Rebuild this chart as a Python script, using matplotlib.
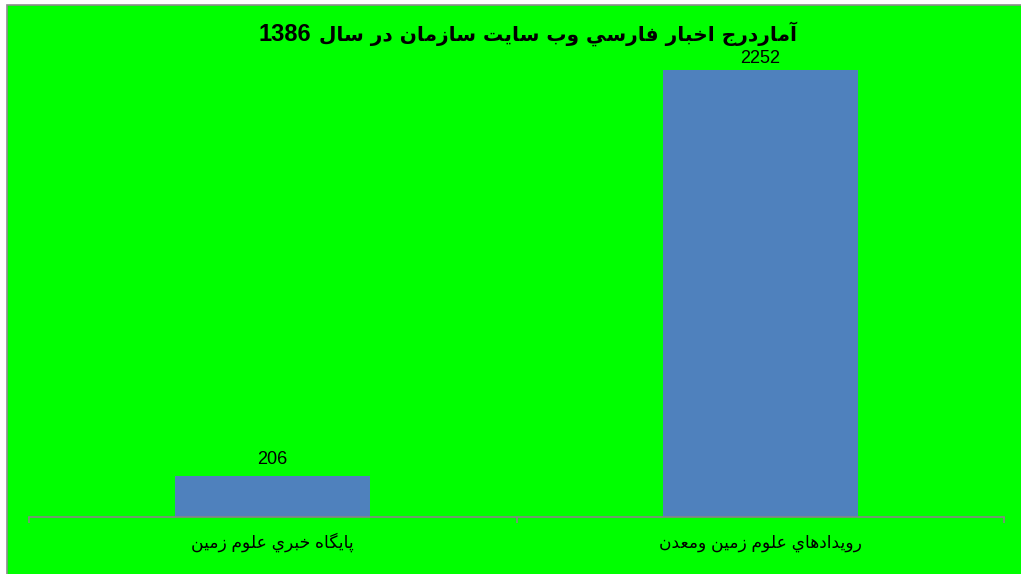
"""
Bar chart: news items posted on the organisation's Persian web site in 1386
"""

import re
import matplotlib
matplotlib.use('Agg')
import matplotlib.pyplot as plt
from matplotlib.patches import Rectangle

# Data
TITLE_TEXT = 'آماردرج اخبار فارسي وب سايت سازمان در سال'
TITLE_YEAR = '1386'
CATEGORIES = ['پايگاه خبري علوم زمين', 'رويدادهاي علوم زمين ومعدن']
VALUES = [206, 2252]

BAR_COLOR = '#4F81BD'
BG_COLOR = '#00FF00'
AXIS_COLOR = '#868686'

# Arabic presentation forms: isolated, final, initial, medial
FORMS = {
    'آ': (0xFE81, 0xFE82),
    'ا': (0xFE8D, 0xFE8E),
    'ب': (0xFE8F, 0xFE90, 0xFE91, 0xFE92),
    'ت': (0xFE95, 0xFE96, 0xFE97, 0xFE98),
    'ج': (0xFE9D, 0xFE9E, 0xFE9F, 0xFEA0),
    'خ': (0xFEA5, 0xFEA6, 0xFEA7, 0xFEA8),
    'د': (0xFEA9, 0xFEAA),
    'ر': (0xFEAD, 0xFEAE),
    'ز': (0xFEAF, 0xFEB0),
    'س': (0xFEB1, 0xFEB2, 0xFEB3, 0xFEB4),
    'ع': (0xFEC9, 0xFECA, 0xFECB, 0xFECC),
    'ف': (0xFED1, 0xFED2, 0xFED3, 0xFED4),
    'ل': (0xFEDD, 0xFEDE, 0xFEDF, 0xFEE0),
    'م': (0xFEE1, 0xFEE2, 0xFEE3, 0xFEE4),
    'ن': (0xFEE5, 0xFEE6, 0xFEE7, 0xFEE8),
    'ه': (0xFEE9, 0xFEEA, 0xFEEB, 0xFEEC),
    'و': (0xFEED, 0xFEEE),
    'ي': (0xFEF1, 0xFEF2, 0xFEF3, 0xFEF4),
    'پ': (0xFB56, 0xFB57, 0xFB58, 0xFB59),
    'گ': (0xFB92, 0xFB93, 0xFB94, 0xFB95),
}


def rtl(text):
    # matplotlib has no shaping, so join the letters and put them in visual order
    out = []
    for i, ch in enumerate(text):
        if ch not in FORMS:
            out.append(ch)
            continue
        prev = text[i - 1] if i > 0 else ''
        nxt = text[i + 1] if i + 1 < len(text) else ''
        f = FORMS[ch]
        join_prev = prev in FORMS and len(FORMS[prev]) == 4
        join_next = len(f) == 4 and nxt in FORMS
        if join_prev and join_next:
            c = f[3]
        elif join_prev:
            c = f[1]
        elif join_next:
            c = f[2]
        else:
            c = f[0]
        out.append(chr(c))
    s = ''.join(out)[::-1]
    return re.sub(r'[0-9]+', lambda m: m.group(0)[::-1], s)


plt.rcParams['font.family'] = ['Liberation Sans', 'DejaVu Sans']

W, H = 1021, 574
fig = plt.figure(figsize=(W / 100, H / 100), dpi=100)
fig.patch.set_facecolor('white')
bg = Rectangle((7 / W, -0.1), 1.2, 1 - 5 / H + 0.1, transform=fig.transFigure,
               facecolor=BG_COLOR, edgecolor='#8C8C8C', linewidth=1.2, zorder=-10)
fig.patches.append(bg)

ax = fig.add_axes([29 / W, 57 / H, 975 / W, 496 / H])
ax.set_facecolor('none')

x = list(range(len(VALUES)))
bars = ax.bar(x, VALUES, width=0.4, color=BAR_COLOR, zorder=2)
# the tallest label sits closer to its bar, as in the original
label_gap = [6, 2]
for b, v, gap in zip(bars, VALUES, label_gap):
    ax.annotate(str(v), (b.get_x() + b.get_width() / 2, v), xytext=(0, gap),
                textcoords='offset points', ha='center', va='bottom', fontsize=13)

ax.set_xlim(-0.5, len(VALUES) - 0.5)
ax.set_ylim(0, 2500)

for side in ['top', 'right', 'left']:
    ax.spines[side].set_visible(False)
ax.spines['bottom'].set_color(AXIS_COLOR)
ax.spines['bottom'].set_linewidth(1.2)
ax.set_yticks([])

ax.set_xticks([i - 0.5 for i in range(len(VALUES) + 1)])
ax.set_xticklabels([])
ax.tick_params(axis='x', which='major', length=4, color=AXIS_COLOR, width=1.2)
ax.set_xticks(x, minor=True)
ax.set_xticklabels([rtl(c) for c in CATEGORIES], minor=True, fontsize=12.3,
                   va='baseline')
ax.tick_params(axis='x', which='minor', length=0, pad=22)

# title: Persian words on the right, the year on the left
fig.text(797 / W, 1 - 41 / H, rtl(TITLE_TEXT), ha='right', va='baseline',
         fontsize=14.5, fontweight='bold', family='DejaVu Sans')
fig.text(258 / W, 1 - 41 / H, TITLE_YEAR, ha='left', va='baseline',
         fontsize=17, fontweight='bold', family='Liberation Sans')

fig.savefig('out.png', dpi=100, facecolor=fig.get_facecolor())
